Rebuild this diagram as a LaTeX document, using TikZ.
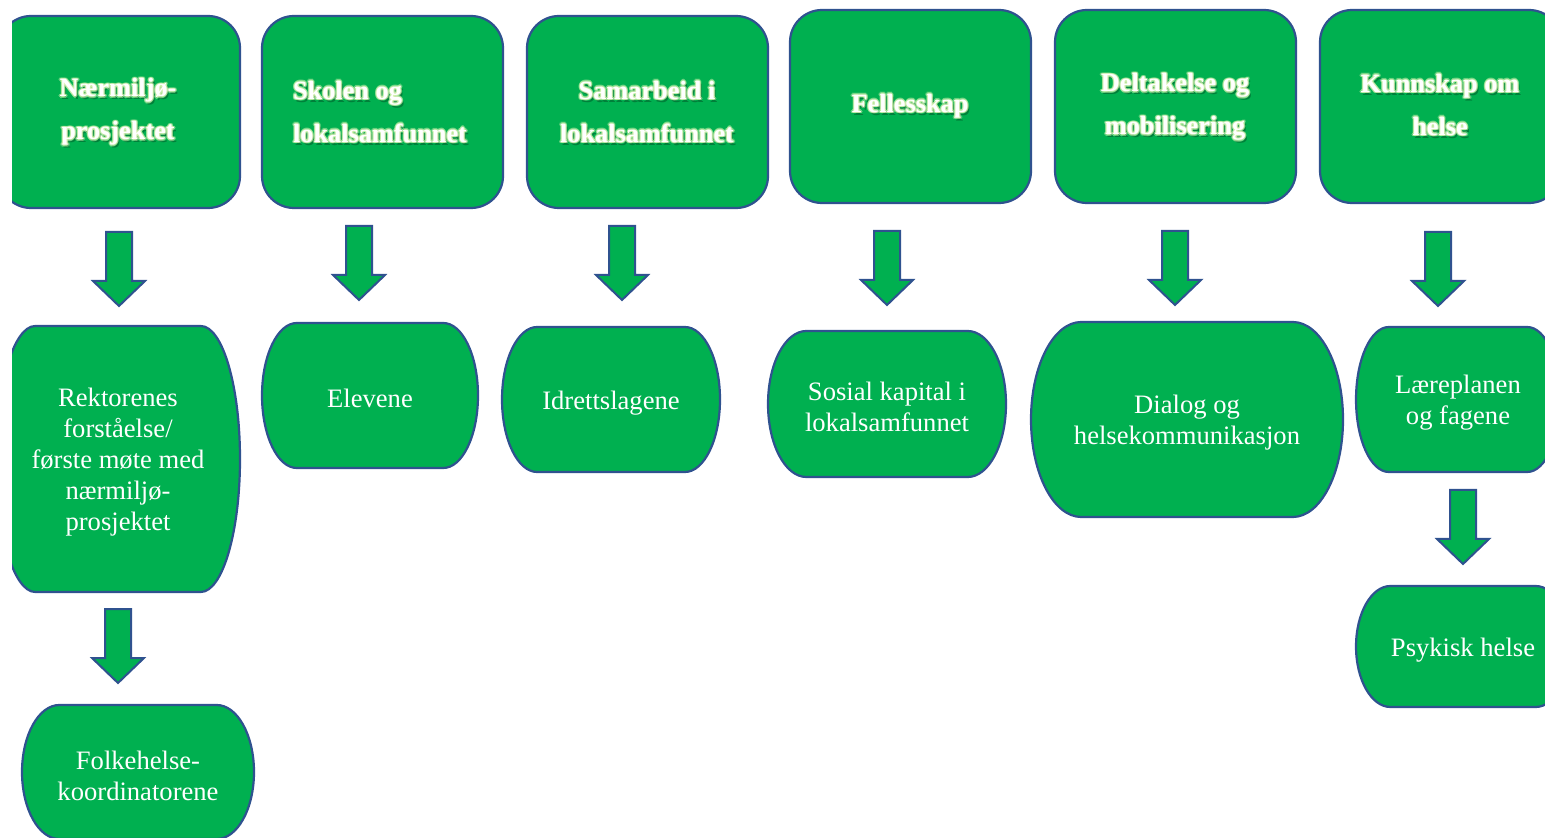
\documentclass[tikz,border=0pt]{standalone}
\usepackage{fontspec}
\setmainfont{Liberation Serif}
\definecolor{gfill}{HTML}{00B050}
\definecolor{bord}{HTML}{2F528F}
\definecolor{glowc}{HTML}{E2F7B8}
\definecolor{shad}{HTML}{005A28}
\tikzset{
  hbox/.style={draw=bord, fill=gfill, line width=1.1pt, rounded corners=16pt,
    minimum width=120.5pt, inner sep=0pt},
  tshape/.style={draw=bord, fill=gfill, line width=1.1pt},
  ttxt/.style={text=white, align=center, inner sep=0pt, yshift=-1.7pt,
    font=\fontsize{13.3pt}{15.5pt}\selectfont},
  htxt/.style={text=white, align=center, inner sep=0pt, yshift=-1pt,
    font=\fontsize{13.15pt}{21.5pt}\selectfont\bfseries},
  barrow/.style={draw=bord, fill=gfill, line width=1pt, line join=miter}
}
% terminator: name, x0, y0, x1, y1, text
\newcommand\termbox[6]{%
  \pgfmathsetmacro\rx{0.161*(#4-(#2))}%
  \pgfmathsetmacro\ry{(#5-(#3))/2}%
  \draw[tshape] (#2+\rx,#3) -- (#4-\rx,#3)
     arc[start angle=-90,end angle=90,x radius=\rx,y radius=\ry]
     -- (#2+\rx,#5)
     arc[start angle=90,end angle=270,x radius=\rx,y radius=\ry] -- cycle;
  \node[ttxt] (#1) at ({(#2+#4)/2},{(#3+#5)/2}) {#6};}
% header text with shadow and glow: name, x, y, align, text
\newcommand\htext[5]{%
  \node[htxt, align=#4, text=shad, opacity=0.55] at (#2+2,#3+3) {#5};
  \foreach \dx/\dy in {-1.5/0,1.5/0,0/-1.5,0/1.5,-1/-1,1/1,-1/1,1/-1}{%
    \node[htxt, align=#4, text=glowc, opacity=0.45] at (#2+\dx,#3+\dy) {#5};}
  \node[htxt, align=#4] (#1) at (#2,#3) {#5};}
% block arrow: cx, ytop
\newcommand\darr[2]{%
  \draw[barrow] (#1-13,#2) -- (#1+13,#2) -- (#1+13,#2+49) -- (#1+26,#2+49)
    -- (#1,#2+74) -- (#1-26,#2+49) -- (#1-13,#2+49) -- cycle;}
\begin{document}
\begin{tikzpicture}[x=0.5pt,y=-0.5pt]
\useasboundingbox (0,0) rectangle (1545,838);
\begin{scope}
\clip (12,-10) rectangle (1545,838);
% header boxes
\node[hbox, minimum height=96pt] (h1) at (119.5,112) {};
\node[hbox, minimum height=96pt] (h2) at (382.5,112) {};
\node[hbox, minimum height=96pt] (h3) at (647.5,112) {};
\node[hbox, minimum height=96.5pt] (h4) at (910.5,106.5) {};
\node[hbox, minimum height=96.5pt] (h5) at (1175.5,106.5) {};
\node[hbox, minimum height=96.5pt] (h6) at (1440.5,106.5) {};
\htext{h1t}{118}{110}{center}{Nærmiljø-\\prosjektet}
\htext{h2t}{380}{110}{left}{Skolen og\\lokalsamfunnet}
\htext{h3t}{647}{110}{center}{Samarbeid i\\lokalsamfunnet}
\htext{h4t}{910}{104}{center}{Fellesskap}
\htext{h5t}{1175}{105}{center}{Deltakelse og\\mobilisering}
\htext{h6t}{1440}{103}{center}{Kunnskap om\\helse}
% arrows
\darr{119}{232}
\darr{359}{226}
\darr{622}{226}
\darr{887}{231}
\darr{1175}{231}
\darr{1438}{232}
\darr{118}{609}
\darr{1463}{490}
% lower boxes
\termbox{t1}{-4}{326}{240}{592}{Rektorenes\\forståelse/\\første møte med\\nærmiljø-\\prosjektet}
\termbox{t2}{262}{323}{478}{468}{Elevene}
\termbox{t3}{502}{327}{720}{472}{Idrettslagene}
\termbox{t4}{768}{331}{1006}{477}{Sosial kapital i\\lokalsamfunnet}
\termbox{t5}{1031}{322}{1343}{517}{Dialog og\\helsekommunikasjon}
\termbox{t6}{1356}{327}{1560}{472}{Læreplanen\\og fagene}
\termbox{t7}{1356}{586}{1570}{707}{Psykisk helse}
\termbox{t8}{22}{705}{254}{839}{Folkehelse-\\koordinatorene}
\end{scope}
\end{tikzpicture}
\end{document}
